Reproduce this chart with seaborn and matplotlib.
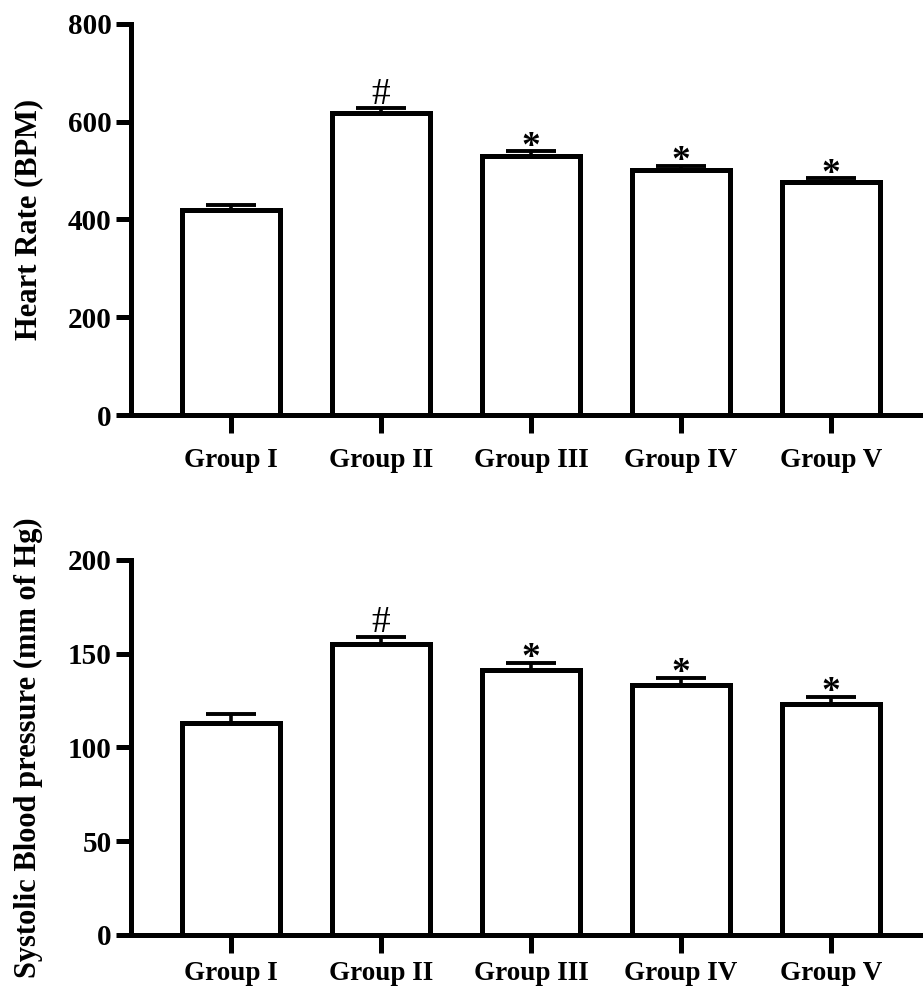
import numpy as np
import matplotlib
matplotlib.use("Agg")
import matplotlib.pyplot as plt
import seaborn as sns

# ============================================================
# DATA
# ============================================================

groups = ["Group I", "Group II", "Group III", "Group IV", "Group V"]

hr_mean = [420, 618, 530, 501, 476]
hr_sem = [10, 10, 10, 9, 8]
hr_marks = ["", "#", "*", "*", "*"]

sbp_mean = [113, 155, 141, 133, 123]
sbp_sem = [5, 4, 4, 4, 4]
sbp_marks = ["", "#", "*", "*", "*"]

# ============================================================
# STYLE
# ============================================================

sns.set_style("ticks", rc={
    "axes.edgecolor": "black",
    "xtick.color": "black",
    "ytick.color": "black",
    "text.color": "black",
    "axes.labelcolor": "black",
})
plt.rcParams["font.family"] = ["Liberation Serif", "DejaVu Serif"]
plt.rcParams["font.weight"] = "bold"

LW = 3.6

fig = plt.figure(figsize=(9.23, 9.9), dpi=100)
ax_top = fig.add_axes([0.142, 0.5808, 0.858, 0.395])
ax_bot = fig.add_axes([0.142, 0.0556, 0.858, 0.379])


def draw_panel(ax, means, sems, marks, ylabel, ymax, ystep, xpad):

    sns.barplot(
        x=groups,
        y=means,
        color="white",
        edgecolor="black",
        linewidth=LW,
        width=0.65,
        errorbar=None,
        saturation=1,
        ax=ax
    )

    x = np.arange(len(groups))
    ax.errorbar(
        x,
        means,
        yerr=[np.zeros(len(sems)), sems],
        fmt="none",
        ecolor="black",
        elinewidth=2.6,
        capsize=18,
        capthick=2.8,
        zorder=5
    )

    # significance marks
    for i, m in enumerate(marks):
        if not m:
            continue
        if m == "#":
            ax.annotate(
                m, xy=(i, means[i] + sems[i]), xytext=(0, 3),
                textcoords="offset points", ha="center", va="baseline",
                fontsize=27, fontweight="normal"
            )
        else:
            ax.annotate(
                m, xy=(i, means[i] + sems[i]), xytext=(0, -4),
                textcoords="offset points", ha="center", va="baseline",
                fontsize=27, fontweight="bold"
            )

    ax.set_xlim(-0.667, 4.613)
    ax.set_ylim(0, ymax)
    ax.set_yticks(np.arange(0, ymax + 1, ystep))

    sns.despine(ax=ax)
    ax.spines["left"].set_linewidth(LW)
    ax.spines["bottom"].set_linewidth(LW)

    ax.tick_params(axis="y", length=11, width=LW, labelsize=21, pad=3)
    ax.tick_params(axis="x", length=13, width=LW, labelsize=19.5, pad=xpad)

    for lbl in ax.get_xticklabels() + ax.get_yticklabels():
        lbl.set_fontweight("bold")

    ax.set_xlabel("")
    ax.set_ylabel(ylabel, fontsize=22, fontweight="bold", labelpad=18)


draw_panel(ax_top, hr_mean, hr_sem, hr_marks, "Heart Rate (BPM)", 800, 200, 11)
draw_panel(ax_bot, sbp_mean, sbp_sem, sbp_marks,
           "Systolic Blood pressure (mm of Hg)", 200, 50, 6)

plt.savefig("out.png", dpi=100)
plt.close()
